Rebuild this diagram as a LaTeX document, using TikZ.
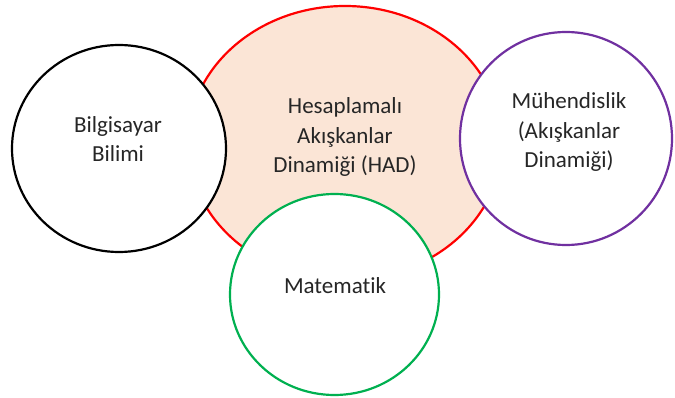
\documentclass[tikz,border=0pt]{standalone}
\usepackage{fontspec}
\setmainfont[Ligatures={NoCommon}]{Carlito}
\usetikzlibrary{shapes.geometric}
\definecolor{peach}{HTML}{FBE5D6}
\definecolor{rline}{HTML}{FF0000}
\definecolor{pline}{HTML}{7030A0}
\definecolor{gline}{HTML}{00B050}
\definecolor{txt}{HTML}{262626}
\tikzset{
  blob/.style={ellipse, inner sep=0pt, line width=2.2pt},
  lbl/.style={align=center, text=txt, inner sep=0pt, font=\fontsize{23}{29.5}\selectfont}
}
\begin{document}
\begin{tikzpicture}[x=1pt,y=-1pt]
\useasboundingbox (0,0) rectangle (675,398);
\node[blob, draw=rline, fill=peach, minimum width=314pt, minimum height=274pt] (had) at (345,143) {};
\node[blob, draw=black, fill=white, minimum width=214pt, minimum height=207pt] (bil) at (119,148.5) {};
\node[blob, draw=pline, fill=white, minimum width=212pt, minimum height=213pt] (muh) at (566,138.5) {};
\node[blob, draw=gline, fill=white, minimum width=209pt, minimum height=201pt] (mat) at (334.5,294.5) {};
\node[lbl] (tbil) at (118,139) {Bilgisayar\\Bilimi};
\node[lbl] (thad) at (345,137) {Hesaplamalı\\Akışkanlar\\Dinamiği (HAD)};
\node[lbl] (tmuh) at (569,132) {Mühendislik\\(Akışkanlar\\Dinamiği)};
\node[lbl, anchor=base] (tmat) at (335,293.3) {Matematik};
\end{tikzpicture}
\end{document}
